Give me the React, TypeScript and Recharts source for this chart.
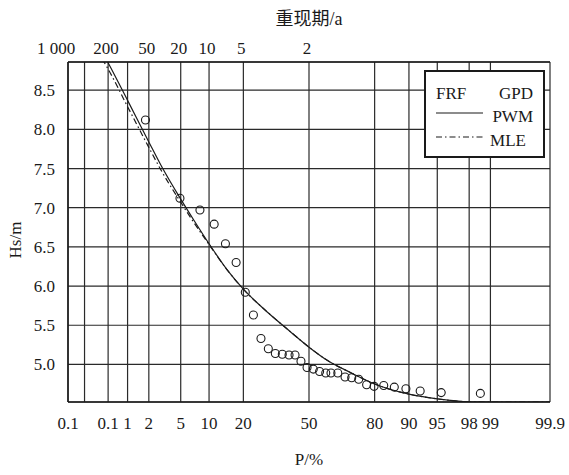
import React from "react";
import { ComposedChart, Line, Scatter, XAxis, YAxis, CartesianGrid } from "recharts";

// probability paper ticks (P, %) and what is printed under them
const probTicks = [0.1, 0.2, 0.5, 1, 2, 5, 10, 20, 50, 80, 90, 95, 98, 99, 99.9];
const probLabels = ["0.1", "", "0.1", "1", "2", "5", "10", "20", "50", "80", "90", "95", "98", "99", "99.9"];
// return period (years) printed on top
const periodTicks = [0.1, 0.5, 2, 5, 10, 20, 50];
const periodLabels = ["1 000", "200", "50", "20", "10", "5", "2"];
const hsTicks = [5.0, 5.5, 6.0, 6.5, 7.0, 7.5, 8.0, 8.5];

// observed sample (P %, Hs m)
const obsP = [
  1.8, 4.9, 8.1, 11.2, 14.2, 17.5, 20.7, 23.8, 26.9, 30.1, 33.3, 36.6, 39.9, 42.9, 45.9, 49.0,
  52.2, 55.4, 58.5, 61.1, 64.4, 67.8, 70.8, 73.8, 77.0, 79.8, 83.1, 86.3, 89.3, 92.3, 95.5, 98.6,
];
const obsHs = [
  8.12, 7.12, 6.97, 6.79, 6.54, 6.3, 5.92, 5.63, 5.33, 5.2, 5.14, 5.13, 5.12, 5.12, 5.04, 4.96,
  4.94, 4.91, 4.89, 4.89, 4.89, 4.84, 4.83, 4.81, 4.74, 4.72, 4.73, 4.71, 4.69, 4.66, 4.64, 4.63,
];

// fitted GPD curves
const curveP = [0.4, 0.5, 1, 2, 3, 5, 7, 10, 15, 20, 30, 40, 50, 60, 70, 80, 90, 95, 98, 99, 99.9];
const pwmHs = [8.99, 8.85, 8.37, 7.84, 7.51, 7.11, 6.84, 6.54, 6.19, 5.96, 5.66, 5.43, 5.22, 5.04, 4.9, 4.75, 4.62, 4.56, 4.522, 4.52, 4.52];
const mleHs = [8.9, 8.77, 8.29, 7.77, 7.45, 7.07, 6.81, 6.53, 6.19, 5.96, 5.66, 5.43, 5.22, 5.04, 4.9, 4.75, 4.62, 4.56, 4.522, 4.52, 4.52];

// inverse normal cdf (Acklam) - normal probability paper
function probit(p: number) {
  const a = [-39.69683028665376, 220.9460984245205, -275.9285104469687, 138.357751867269, -30.66479806614716, 2.506628277459239];
  const b = [-54.47609879822406, 161.5858368580409, -155.6989798598866, 66.80131188771972, -13.28068155288572];
  const c = [-0.007784894002430293, -0.3223964580411365, -2.400758277161838, -2.549732539343734, 4.374664141464968, 2.938163982698783];
  const d = [0.007784695709041462, 0.3224671290700398, 2.445134137142996, 3.754408661907416];
  const lo = 0.02425;
  if (p < lo) {
    const q = Math.sqrt(-2 * Math.log(p));
    return (((((c[0] * q + c[1]) * q + c[2]) * q + c[3]) * q + c[4]) * q + c[5]) / ((((d[0] * q + d[1]) * q + d[2]) * q + d[3]) * q + 1);
  }
  if (p > 1 - lo) {
    const q = Math.sqrt(-2 * Math.log(1 - p));
    return -(((((c[0] * q + c[1]) * q + c[2]) * q + c[3]) * q + c[4]) * q + c[5]) / ((((d[0] * q + d[1]) * q + d[2]) * q + d[3]) * q + 1);
  }
  const q = p - 0.5;
  const r = q * q;
  return ((((((a[0] * r + a[1]) * r + a[2]) * r + a[3]) * r + a[4]) * r + a[5]) * q) / (((((b[0] * r + b[1]) * r + b[2]) * r + b[3]) * r + b[4]) * r + 1);
}
const toZ = (pct: number) => probit(pct / 100);

const obsData = obsP.map((p, i) => ({ z: toZ(p), h: obsHs[i] }));
const pwmData = curveP.map((p, i) => ({ z: toZ(p), h: pwmHs[i] }));
const mleData = curveP.map((p, i) => ({ z: toZ(p), h: mleHs[i] }));
const zDomain = [toZ(0.1), toZ(99.9)];
const periodZ = periodTicks.map(toZ);

const FONT = "'Liberation Serif', 'Noto Sans CJK SC', serif";
const INK = "#1a1a1a";

const TopTick = (props: any) => {
  const { x, y, payload } = props;
  let i = periodZ.findIndex((v) => Math.abs(v - payload.value) < 1e-6);
  if (i < 0) i = props.index;
  const shift = i === 0 ? -12 : -2;
  return (
    <text x={x + shift} y={y} textAnchor="middle" fontFamily={FONT} fontSize={17} fill={INK}>
      {periodLabels[i]}
    </text>
  );
};

const Ring = ({ cx, cy }: any) => <circle cx={cx} cy={cy} r={4} fill="none" stroke={INK} strokeWidth={1.1} />;
const Nothing = () => <g />;

export default function App() {
  return (
    <div style={{ position: "absolute", left: 0, top: 0, width: 569, height: 475, background: "#fff" }}>
      <ComposedChart width={569} height={475} margin={{ top: 0, right: 19, bottom: 0, left: 0 }}>
        <CartesianGrid stroke="#2a2a2a" strokeWidth={1.2} fill="none" />
        <XAxis
          dataKey="z"
          type="number"
          domain={zDomain}
          allowDataOverflow
          ticks={probTicks.map(toZ)}
          tickFormatter={(v, i) => probLabels[i]}
          interval={0}
          height={73}
          tickSize={0}
          tickMargin={15}
          axisLine={{ stroke: INK, strokeWidth: 1.5 }}
          tick={{ fontFamily: FONT, fontSize: 17, fill: INK }}
          label={{
            content: () => (
              <text x={309} y={465} textAnchor="middle" fontFamily={FONT} fontSize={17} fill={INK}>
                P/%
              </text>
            ),
          }}
        />
        <XAxis
          xAxisId="top"
          dataKey="z"
          orientation="top"
          type="number"
          domain={zDomain}
          allowDataOverflow
          ticks={periodZ}
          interval={0}
          height={62}
          tickSize={0}
          tickMargin={8}
          axisLine={{ stroke: INK, strokeWidth: 1.5 }}
          tick={<TopTick />}
          label={{
            content: () => (
              <text x={309} y={25} textAnchor="middle" fontFamily={FONT} fontSize={18} fill={INK}>
                重现期/a
              </text>
            ),
          }}
        />
        <YAxis
          dataKey="h"
          type="number"
          domain={[4.52, 8.86]}
          allowDataOverflow
          ticks={hsTicks}
          tickFormatter={(v) => v.toFixed(1)}
          width={68}
          tickSize={0}
          tickMargin={13}
          axisLine={{ stroke: INK, strokeWidth: 1.5 }}
          tick={{ fontFamily: FONT, fontSize: 17, fill: INK }}
          label={{
            content: () => (
              <text x={21} y={240} transform="rotate(-90, 21, 240)" textAnchor="middle" fontFamily={FONT} fontSize={17} fill={INK}>
                Hs/m
              </text>
            ),
          }}
        />
        <Scatter xAxisId="top" data={obsData} dataKey="h" shape={<Nothing />} isAnimationActive={false} />
        <Line data={pwmData} dataKey="h" type="monotone" stroke={INK} strokeWidth={1.2} dot={false} isAnimationActive={false} />
        <Line data={mleData} dataKey="h" type="monotone" stroke={INK} strokeWidth={1.2} strokeDasharray="6 3 1.5 3" dot={false} isAnimationActive={false} />
        <Scatter data={obsData} dataKey="h" shape={<Ring />} isAnimationActive={false} />
      </ComposedChart>
      <div
        style={{
          position: "absolute",
          left: 424,
          top: 70,
          width: 117,
          height: 84,
          border: `2px solid ${INK}`,
          background: "#fff",
        }}
      >
        <svg width={117} height={84} style={{ display: "block" }}>
          <text x={10} y={27} fontFamily={FONT} fontSize={17} fill={INK}>FRF</text>
          <text x={107} y={27} textAnchor="end" fontFamily={FONT} fontSize={17} fill={INK}>GPD</text>
          <line x1={10} x2={57} y1={41} y2={41} stroke={INK} strokeWidth={1.2} />
          <text x={107} y={50} textAnchor="end" fontFamily={FONT} fontSize={17} fill={INK}>PWM</text>
          <line x1={10} x2={57} y1={65} y2={65} stroke={INK} strokeWidth={1.2} strokeDasharray="6 3 1.5 3" />
          <text x={100} y={74} textAnchor="end" fontFamily={FONT} fontSize={17} fill={INK}>MLE</text>
        </svg>
      </div>
    </div>
  );
}
